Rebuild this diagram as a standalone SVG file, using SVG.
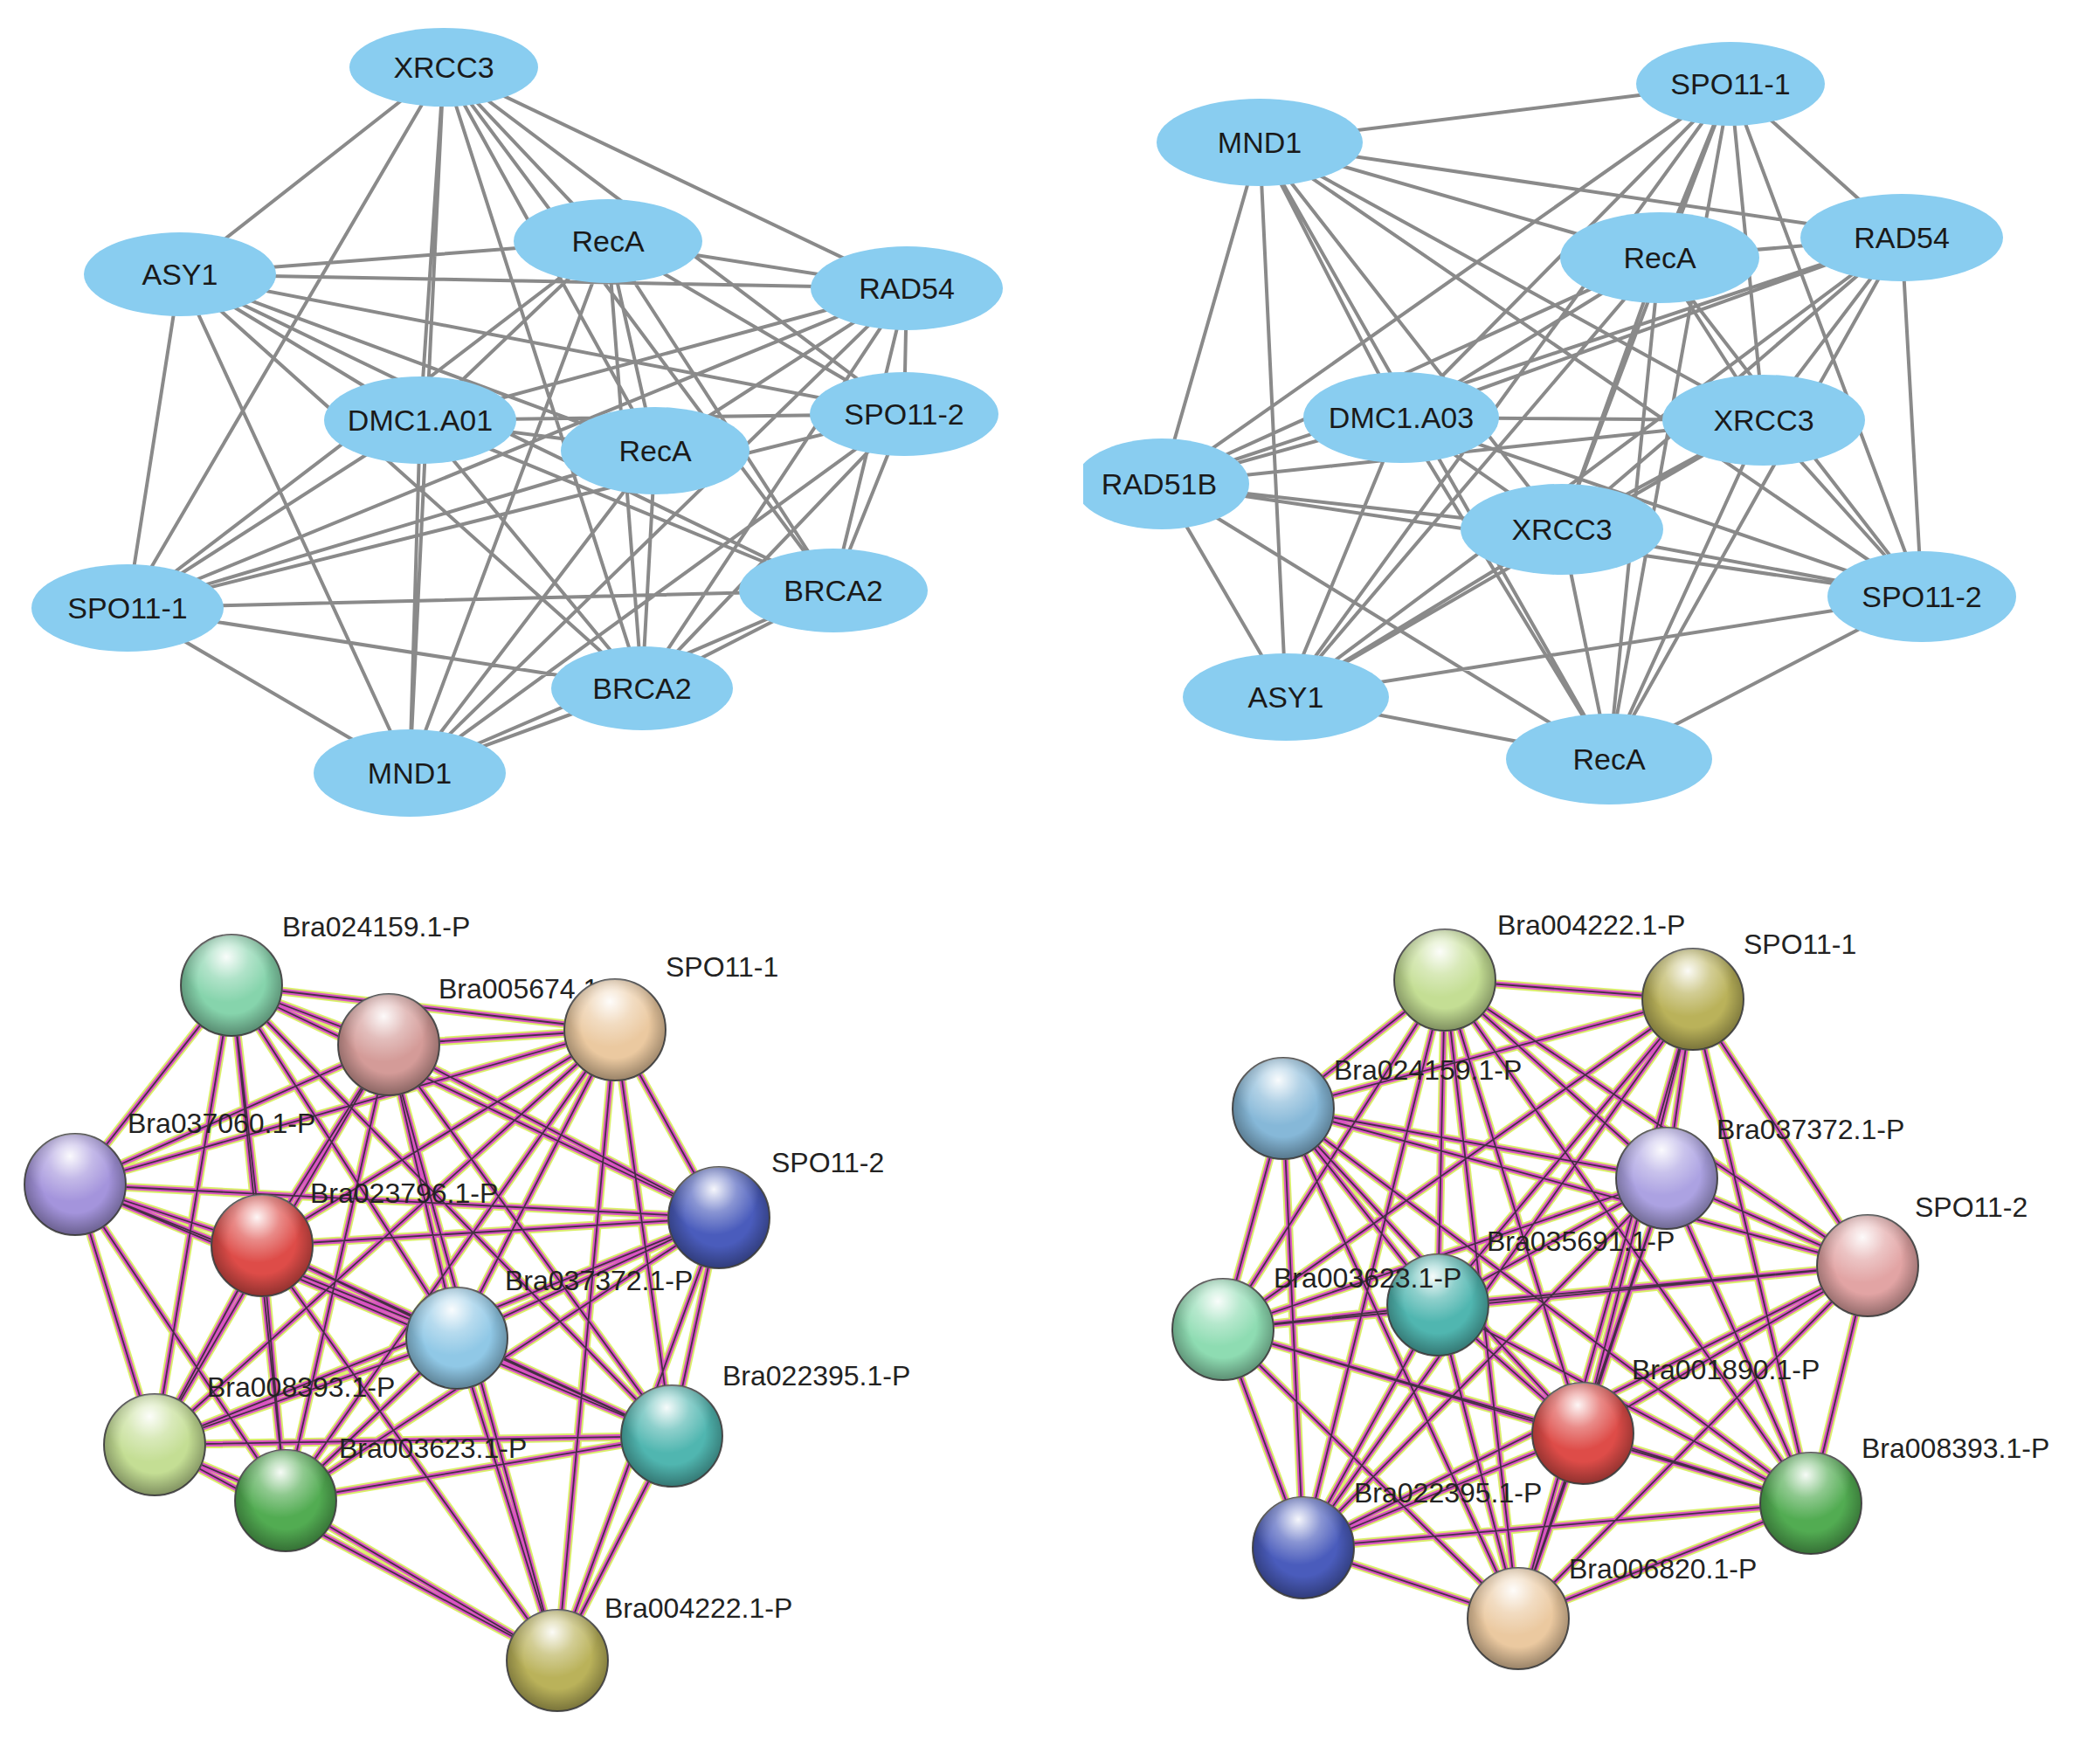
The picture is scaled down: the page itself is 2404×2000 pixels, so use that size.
<svg xmlns="http://www.w3.org/2000/svg" xmlns:xlink="http://www.w3.org/1999/xlink" width="2404" height="2000" viewBox="0 0 2404 2000">
<style>
.bg{fill:#fff}
.ge{stroke:#8a8a8a;stroke-width:4;fill:none}
.el{fill:#89cdf0}
.tl{font-family:"Liberation Sans",Arial,sans-serif;font-size:34px;fill:#1a1a1a;text-anchor:middle}
.sl{font-family:"Liberation Sans",Arial,sans-serif;font-size:32px;fill:#222}
.ey{stroke:#cde83a;stroke-width:10;fill:none;stroke-opacity:.75}
.em{stroke:#d82ad8;stroke-width:6;fill:none;stroke-opacity:.8}
.ek{stroke:#2a2a2a;stroke-width:1.8;fill:none;stroke-opacity:.85}
.hl{fill:url(#hi)}
.sh{fill:url(#shade)}
.sp{stroke:#555;stroke-width:2}
</style>
<defs>
<radialGradient id="hi" cx="0.45" cy="0.22" r="0.45">
<stop offset="0" stop-color="#fff" stop-opacity="0.95"/>
<stop offset="0.5" stop-color="#fff" stop-opacity="0.35"/>
<stop offset="1" stop-color="#fff" stop-opacity="0"/>
</radialGradient>
<radialGradient id="shade" cx="0.5" cy="0.45" r="0.55">
<stop offset="0.6" stop-color="#000" stop-opacity="0"/>
<stop offset="1" stop-color="#000" stop-opacity="0.35"/>
</radialGradient>
<clipPath id="clipR"><rect x="1240" y="0" width="1164" height="1000"/></clipPath>
<path id="blE" d="M265 1128L445 1196M265 1128L704 1179M265 1128L86 1356M265 1128L300 1426M265 1128L823 1394M265 1128L523 1532M265 1128L177 1654M265 1128L327 1718M265 1128L769 1644M445 1196L704 1179M445 1196L86 1356M445 1196L300 1426M445 1196L823 1394M445 1196L523 1532M445 1196L177 1654M445 1196L327 1718M445 1196L769 1644M445 1196L638 1901M704 1179L86 1356M704 1179L300 1426M704 1179L823 1394M704 1179L523 1532M704 1179L177 1654M704 1179L327 1718M704 1179L769 1644M704 1179L638 1901M86 1356L300 1426M86 1356L823 1394M86 1356L523 1532M86 1356L177 1654M86 1356L327 1718M86 1356L769 1644M300 1426L823 1394M300 1426L523 1532M300 1426L177 1654M300 1426L327 1718M300 1426L769 1644M300 1426L638 1901M823 1394L523 1532M823 1394L177 1654M823 1394L327 1718M823 1394L769 1644M823 1394L638 1901M523 1532L177 1654M523 1532L327 1718M523 1532L769 1644M523 1532L638 1901M177 1654L327 1718M177 1654L769 1644M177 1654L638 1901M327 1718L769 1644M327 1718L638 1901M769 1644L638 1901"/>
<path id="brE" d="M1654 1122L1938 1144M1654 1122L1469 1269M1654 1122L1908 1349M1654 1122L2138 1449M1654 1122L1646 1494M1654 1122L1400 1522M1654 1122L1812 1641M1654 1122L2073 1721M1654 1122L1492 1772M1654 1122L1738 1853M1938 1144L1469 1269M1938 1144L1908 1349M1938 1144L2138 1449M1938 1144L1646 1494M1938 1144L1400 1522M1938 1144L1812 1641M1938 1144L2073 1721M1938 1144L1492 1772M1938 1144L1738 1853M1469 1269L1908 1349M1469 1269L2138 1449M1469 1269L1646 1494M1469 1269L1400 1522M1469 1269L1812 1641M1469 1269L2073 1721M1469 1269L1492 1772M1469 1269L1738 1853M1908 1349L2138 1449M1908 1349L1646 1494M1908 1349L1400 1522M1908 1349L1812 1641M1908 1349L2073 1721M1908 1349L1492 1772M1908 1349L1738 1853M2138 1449L1646 1494M2138 1449L1400 1522M2138 1449L1812 1641M2138 1449L2073 1721M2138 1449L1492 1772M2138 1449L1738 1853M1646 1494L1400 1522M1646 1494L1812 1641M1646 1494L2073 1721M1646 1494L1492 1772M1646 1494L1738 1853M1400 1522L1812 1641M1400 1522L2073 1721M1400 1522L1492 1772M1400 1522L1738 1853M1812 1641L2073 1721M1812 1641L1492 1772M1812 1641L1738 1853M2073 1721L1492 1772M2073 1721L1738 1853M1492 1772L1738 1853"/>
</defs>
<rect class="bg" width="2404" height="2000"/>

<g id="connectors">
<g id="tl-edges">
<path class="ge" d="M508 77L206 314M508 77L146 696M508 77L481 481M508 77L469 885M508 77L696 276M508 77L1038 330M508 77L750 516M508 77L954 676M508 77L735 788M508 77L1035 474M206 314L696 276M206 314L1038 330M206 314L1035 474M206 314L481 481M206 314L750 516M206 314L954 676M206 314L146 696M206 314L469 885M206 314L735 788M696 276L1038 330M696 276L481 481M696 276L1035 474M696 276L954 676M696 276L735 788M696 276L146 696M696 276L469 885M696 276L750 516M1038 330L481 481M1038 330L146 696M1038 330L1035 474M1038 330L954 676M1038 330L735 788M1038 330L469 885M1038 330L750 516M481 481L1035 474M481 481L750 516M481 481L146 696M481 481L469 885M481 481L735 788M481 481L954 676M1035 474L146 696M1035 474L735 788M1035 474L469 885M1035 474L954 676M750 516L146 696M750 516L469 885M750 516L735 788M954 676L146 696M954 676L469 885M954 676L735 788M146 696L469 885M146 696L735 788M735 788L469 885"/>
</g>
<g id="tr-edges">
<path class="ge" d="M1442 163L1981 96M1442 163L2177 272M1442 163L1900 295M1442 163L1604 478M1442 163L2019 481M1442 163L1330 554M1442 163L1788 606M1442 163L2200 683M1442 163L1472 798M1442 163L1842 869M1981 96L2177 272M1981 96L1900 295M1981 96L1604 478M1981 96L1330 554M1981 96L2019 481M1981 96L1788 606M1981 96L2200 683M1981 96L1472 798M1981 96L1842 869M2177 272L1900 295M2177 272L1604 478M2177 272L1330 554M2177 272L2019 481M2177 272L1788 606M2177 272L2200 683M2177 272L1472 798M2177 272L1842 869M1900 295L1604 478M1900 295L2019 481M1900 295L1788 606M1900 295L1472 798M1900 295L1842 869M1900 295L2200 683M1900 295L1330 554M1604 478L2019 481M1604 478L1788 606M1604 478L1330 554M1604 478L2200 683M1604 478L1472 798M1604 478L1842 869M2019 481L1330 554M2019 481L1788 606M2019 481L2200 683M2019 481L1472 798M2019 481L1842 869M1330 554L1788 606M1330 554L2200 683M1330 554L1472 798M1330 554L1842 869M1788 606L2200 683M1788 606L1472 798M1788 606L1842 869M2200 683L1472 798M2200 683L1842 869M1472 798L1842 869"/>
</g>
<g id="bl-edges">
<use xlink:href="#blE" href="#blE" class="ey"/>
<use xlink:href="#blE" href="#blE" class="em"/>
<use xlink:href="#blE" href="#blE" class="ek"/>
</g>
<g id="br-edges">
<use xlink:href="#brE" href="#brE" class="ey"/>
<use xlink:href="#brE" href="#brE" class="em"/>
<use xlink:href="#brE" href="#brE" class="ek"/>
</g>
</g>

<!-- top-left -->
<g id="tl-XRCC3"><ellipse class="el" cx="508" cy="77" rx="108" ry="45"/><text class="tl" x="508" y="89">XRCC3</text></g>
<g id="tl-RecA1"><ellipse class="el" cx="696" cy="276" rx="108" ry="48"/><text class="tl" x="696" y="288">RecA</text></g>
<g id="tl-ASY1"><ellipse class="el" cx="206" cy="314" rx="110" ry="48"/><text class="tl" x="206" y="326">ASY1</text></g>
<g id="tl-RAD54"><ellipse class="el" cx="1038" cy="330" rx="110" ry="48"/><text class="tl" x="1038" y="342">RAD54</text></g>
<g id="tl-DMC1"><ellipse class="el" cx="481" cy="481" rx="110" ry="50"/><text class="tl" x="481" y="493">DMC1.A01</text></g>
<g id="tl-SPO11-2"><ellipse class="el" cx="1035" cy="474" rx="108" ry="48"/><text class="tl" x="1035" y="486">SPO11-2</text></g>
<g id="tl-RecA2"><ellipse class="el" cx="750" cy="516" rx="108" ry="50"/><text class="tl" x="750" y="528">RecA</text></g>
<g id="tl-BRCA2a"><ellipse class="el" cx="954" cy="676" rx="108" ry="48"/><text class="tl" x="954" y="688">BRCA2</text></g>
<g id="tl-SPO11-1"><ellipse class="el" cx="146" cy="696" rx="110" ry="50"/><text class="tl" x="146" y="708">SPO11-1</text></g>
<g id="tl-BRCA2b"><ellipse class="el" cx="735" cy="788" rx="104" ry="48"/><text class="tl" x="735" y="800">BRCA2</text></g>
<g id="tl-MND1"><ellipse class="el" cx="469" cy="885" rx="110" ry="50"/><text class="tl" x="469" y="897">MND1</text></g>

<!-- top-right -->
<g id="tr-SPO11-1"><ellipse class="el" cx="1981" cy="96" rx="108" ry="48"/><text class="tl" x="1981" y="108">SPO11-1</text></g>
<g id="tr-MND1"><ellipse class="el" cx="1442" cy="163" rx="118" ry="50"/><text class="tl" x="1442" y="175">MND1</text></g>
<g id="tr-RAD54"><ellipse class="el" cx="2177" cy="272" rx="116" ry="50"/><text class="tl" x="2177" y="284">RAD54</text></g>
<g id="tr-RecA1"><ellipse class="el" cx="1900" cy="295" rx="114" ry="52"/><text class="tl" x="1900" y="307">RecA</text></g>
<g id="tr-DMC1"><ellipse class="el" cx="1604" cy="478" rx="112" ry="52"/><text class="tl" x="1604" y="490">DMC1.A03</text></g>
<g id="tr-XRCC3a"><ellipse class="el" cx="2019" cy="481" rx="116" ry="52"/><text class="tl" x="2019" y="493">XRCC3</text></g>
<g id="tr-RAD51B"><ellipse class="el" cx="1330" cy="554" rx="100" ry="52" clip-path="url(#clipR)"/><text class="tl" x="1327" y="566">RAD51B</text></g>
<g id="tr-XRCC3b"><ellipse class="el" cx="1788" cy="606" rx="116" ry="52"/><text class="tl" x="1788" y="618">XRCC3</text></g>
<g id="tr-SPO11-2"><ellipse class="el" cx="2200" cy="683" rx="108" ry="52"/><text class="tl" x="2200" y="695">SPO11-2</text></g>
<g id="tr-ASY1"><ellipse class="el" cx="1472" cy="798" rx="118" ry="50"/><text class="tl" x="1472" y="810">ASY1</text></g>
<g id="tr-RecA2"><ellipse class="el" cx="1842" cy="869" rx="118" ry="52"/><text class="tl" x="1842" y="881">RecA</text></g>

<!-- bottom-left -->
<g id="bl-Bra024159"><circle cx="265" cy="1128" r="58" fill="#86d4ac" class="sp"/><circle cx="265" cy="1128" r="58" class="sh"/><circle cx="265" cy="1128" r="58" class="hl"/><text class="sl" x="323" y="1072">Bra024159.1-P</text></g>
<g id="bl-Bra005674"><circle cx="445" cy="1196" r="58" fill="#d49b98" class="sp"/><circle cx="445" cy="1196" r="58" class="sh"/><circle cx="445" cy="1196" r="58" class="hl"/><text class="sl" x="502" y="1143">Bra005674.1-P</text></g>
<g id="bl-SPO11-1"><circle cx="704" cy="1179" r="58" fill="#ebc9a0" class="sp"/><circle cx="704" cy="1179" r="58" class="sh"/><circle cx="704" cy="1179" r="58" class="hl"/><text class="sl" x="762" y="1118">SPO11-1</text></g>
<g id="bl-Bra037060"><circle cx="86" cy="1356" r="58" fill="#a494dc" class="sp"/><circle cx="86" cy="1356" r="58" class="sh"/><circle cx="86" cy="1356" r="58" class="hl"/><text class="sl" x="146" y="1297">Bra037060.1-P</text></g>
<g id="bl-Bra023796"><circle cx="300" cy="1426" r="58" fill="#de4c48" class="sp"/><circle cx="300" cy="1426" r="58" class="sh"/><circle cx="300" cy="1426" r="58" class="hl"/><text class="sl" x="355" y="1377">Bra023796.1-P</text></g>
<g id="bl-SPO11-2"><circle cx="823" cy="1394" r="58" fill="#4a5cbc" class="sp"/><circle cx="823" cy="1394" r="58" class="sh"/><circle cx="823" cy="1394" r="58" class="hl"/><text class="sl" x="883" y="1342">SPO11-2</text></g>
<g id="bl-Bra037372"><circle cx="523" cy="1532" r="58" fill="#90c8e6" class="sp"/><circle cx="523" cy="1532" r="58" class="sh"/><circle cx="523" cy="1532" r="58" class="hl"/><text class="sl" x="578" y="1477">Bra037372.1-P</text></g>
<g id="bl-Bra008393"><circle cx="177" cy="1654" r="58" fill="#c4de94" class="sp"/><circle cx="177" cy="1654" r="58" class="sh"/><circle cx="177" cy="1654" r="58" class="hl"/><text class="sl" x="237" y="1599">Bra008393.1-P</text></g>
<g id="bl-Bra003623"><circle cx="327" cy="1718" r="58" fill="#52ac52" class="sp"/><circle cx="327" cy="1718" r="58" class="sh"/><circle cx="327" cy="1718" r="58" class="hl"/><text class="sl" x="388" y="1669">Bra003623.1-P</text></g>
<g id="bl-Bra022395"><circle cx="769" cy="1644" r="58" fill="#50b6b0" class="sp"/><circle cx="769" cy="1644" r="58" class="sh"/><circle cx="769" cy="1644" r="58" class="hl"/><text class="sl" x="827" y="1586">Bra022395.1-P</text></g>
<g id="bl-Bra004222"><circle cx="638" cy="1901" r="58" fill="#bab25a" class="sp"/><circle cx="638" cy="1901" r="58" class="sh"/><circle cx="638" cy="1901" r="58" class="hl"/><text class="sl" x="692" y="1852">Bra004222.1-P</text></g>

<!-- bottom-right -->
<g id="br-Bra004222"><circle cx="1654" cy="1122" r="58" fill="#c4de94" class="sp"/><circle cx="1654" cy="1122" r="58" class="sh"/><circle cx="1654" cy="1122" r="58" class="hl"/><text class="sl" x="1714" y="1070">Bra004222.1-P</text></g>
<g id="br-SPO11-1"><circle cx="1938" cy="1144" r="58" fill="#bab25a" class="sp"/><circle cx="1938" cy="1144" r="58" class="sh"/><circle cx="1938" cy="1144" r="58" class="hl"/><text class="sl" x="1996" y="1092">SPO11-1</text></g>
<g id="br-Bra024159"><circle cx="1469" cy="1269" r="58" fill="#86b8d8" class="sp"/><circle cx="1469" cy="1269" r="58" class="sh"/><circle cx="1469" cy="1269" r="58" class="hl"/><text class="sl" x="1527" y="1236">Bra024159.1-P</text></g>
<g id="br-Bra037372"><circle cx="1908" cy="1349" r="58" fill="#aca2e2" class="sp"/><circle cx="1908" cy="1349" r="58" class="sh"/><circle cx="1908" cy="1349" r="58" class="hl"/><text class="sl" x="1965" y="1304">Bra037372.1-P</text></g>
<g id="br-SPO11-2"><circle cx="2138" cy="1449" r="58" fill="#e2a4a4" class="sp"/><circle cx="2138" cy="1449" r="58" class="sh"/><circle cx="2138" cy="1449" r="58" class="hl"/><text class="sl" x="2192" y="1393">SPO11-2</text></g>
<g id="br-Bra003623"><circle cx="1646" cy="1494" r="58" fill="#50b6b0" class="sp"/><circle cx="1646" cy="1494" r="58" class="sh"/><circle cx="1646" cy="1494" r="58" class="hl"/><text class="sl" x="1458" y="1474">Bra003623.1-P</text></g>
<g id="br-Bra035691"><circle cx="1400" cy="1522" r="58" fill="#8edcb2" class="sp"/><circle cx="1400" cy="1522" r="58" class="sh"/><circle cx="1400" cy="1522" r="58" class="hl"/><text class="sl" x="1702" y="1432">Bra035691.1-P</text></g>
<g id="br-Bra001890"><circle cx="1812" cy="1641" r="58" fill="#de4c48" class="sp"/><circle cx="1812" cy="1641" r="58" class="sh"/><circle cx="1812" cy="1641" r="58" class="hl"/><text class="sl" x="1868" y="1579">Bra001890.1-P</text></g>
<g id="br-Bra008393"><circle cx="2073" cy="1721" r="58" fill="#52ac52" class="sp"/><circle cx="2073" cy="1721" r="58" class="sh"/><circle cx="2073" cy="1721" r="58" class="hl"/><text class="sl" x="2131" y="1669">Bra008393.1-P</text></g>
<g id="br-Bra022395"><circle cx="1492" cy="1772" r="58" fill="#4a5cbc" class="sp"/><circle cx="1492" cy="1772" r="58" class="sh"/><circle cx="1492" cy="1772" r="58" class="hl"/><text class="sl" x="1550" y="1720">Bra022395.1-P</text></g>
<g id="br-Bra006820"><circle cx="1738" cy="1853" r="58" fill="#ebc9a0" class="sp"/><circle cx="1738" cy="1853" r="58" class="sh"/><circle cx="1738" cy="1853" r="58" class="hl"/><text class="sl" x="1796" y="1807">Bra006820.1-P</text></g>
</svg>
